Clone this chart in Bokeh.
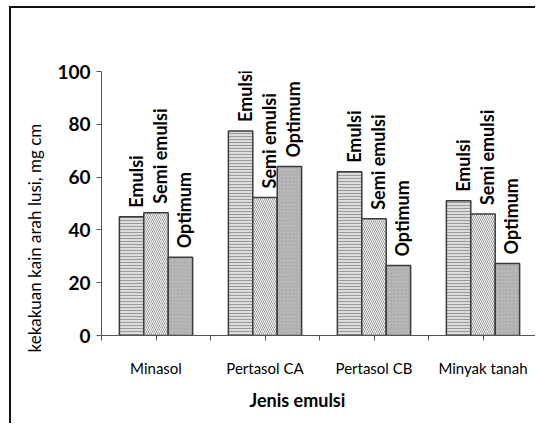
import numpy as np
from bokeh.plotting import figure
from bokeh.models import ColumnDataSource, Range1d, FixedTicker, Title
from bokeh.transform import dodge
from bokeh.core.properties import value
from bokeh.embed import file_html
from bokeh.resources import INLINE

categories = ["Minasol", "Pertasol CA", "Pertasol CB", "Minyak tanah"]
series = ["Emulsi", "Semi emulsi", "Optimum"]
emulsi = [45.0, 77.5, 62.0, 51.0]
semi_emulsi = [46.5, 52.3, 44.2, 46.0]
optimum = [29.6, 64.0, 26.5, 27.3]
y_ticks = [0, 20, 40, 60, 80, 100]
x_title = "Jenis emulsi"
y_title = "kekakuan kain arah lusi, mg cm"

FONT = "Lato"
pos = [i + 0.5 for i in range(len(categories))]
src = ColumnDataSource(dict(x=pos, cat=categories, e=emulsi, s=semi_emulsi, o=optimum))

p = figure(width=526, height=417, output_backend="svg", toolbar_location=None,
           x_range=Range1d(0, len(categories)), y_range=Range1d(0, 100),
           min_border_left=90, min_border_top=63, min_border_bottom=90, min_border_right=0)
p.margin = (6, 0, 0, 9)
p.styles = {"border-left": "2px solid #111111", "border-top": "2px solid #111111"}
p.outline_line_color = None
p.grid.grid_line_color = None

bw = 0.224
styles = [
    dict(col="e", off=-bw, fill="#dcdcdc", hatch="horizontal_line", hcol="#9a9a9a", hscale=3.0),
    dict(col="s", off=0.0, fill="#ffffff", hatch="left_diagonal_line", hcol="#999999", hscale=4.0),
    dict(col="o", off=bw, fill="#cccccc", hatch="right_diagonal_line", hcol="#a0a0a0", hscale=3.5),
]
for st, name in zip(styles, series):
    p.vbar(x=dodge("x", st["off"], range=p.x_range), top=st["col"], width=bw, source=src,
           fill_color=st["fill"], hatch_pattern=st["hatch"], hatch_color=st["hcol"],
           hatch_scale=st["hscale"], hatch_weight=1, line_color="#3a3a3a", line_width=1.5)
    src.data["lbl_" + st["col"]] = [name] * len(categories)
    p.text(x=dodge("x", st["off"], range=p.x_range), y=st["col"], text="lbl_" + st["col"], source=src,
           angle=np.pi / 2, text_align="left", text_baseline="middle", x_offset=4, y_offset=-9,
           text_font=value(FONT), text_font_style="bold", text_font_size="18px", text_color="#000000")

xa = p.xaxis[0]
xa.ticker = FixedTicker(ticks=pos, minor_ticks=list(range(len(categories) + 1)))
xa.major_label_overrides = {p_: c for p_, c in zip(pos, categories)}
xa.major_label_text_font = FONT
xa.major_label_text_font_size = "15px"
xa.major_label_text_color = "#000000"
xa.major_label_standoff = 18
xa.major_tick_in = 0
xa.major_tick_out = 5
xa.minor_tick_in = 0
xa.minor_tick_out = 5
xa.axis_line_color = "#555555"
xa.major_tick_line_color = "#555555"
xa.minor_tick_line_color = "#555555"

ya = p.yaxis[0]
ya.ticker = FixedTicker(ticks=y_ticks, minor_ticks=[])
ya.major_label_text_font = FONT
ya.major_label_text_font_style = "bold"
ya.major_label_text_font_size = "19px"
ya.major_label_text_color = "#000000"
ya.major_label_standoff = 6
ya.major_tick_in = 0
ya.major_tick_out = 5
ya.axis_line_color = "#555555"
ya.major_tick_line_color = "#555555"

p.add_layout(Title(text=x_title, align="left", offset=148, standoff=14,
                   text_font=FONT, text_font_style="bold", text_font_size="18px",
                   text_color="#000000"), "below")
p.add_layout(Title(text=y_title, align="left", offset=-17, standoff=20,
                   text_font=FONT, text_font_style="normal", text_font_size="17px",
                   text_color="#000000"), "left")

open("out.html", "w").write(file_html(p, INLINE))
